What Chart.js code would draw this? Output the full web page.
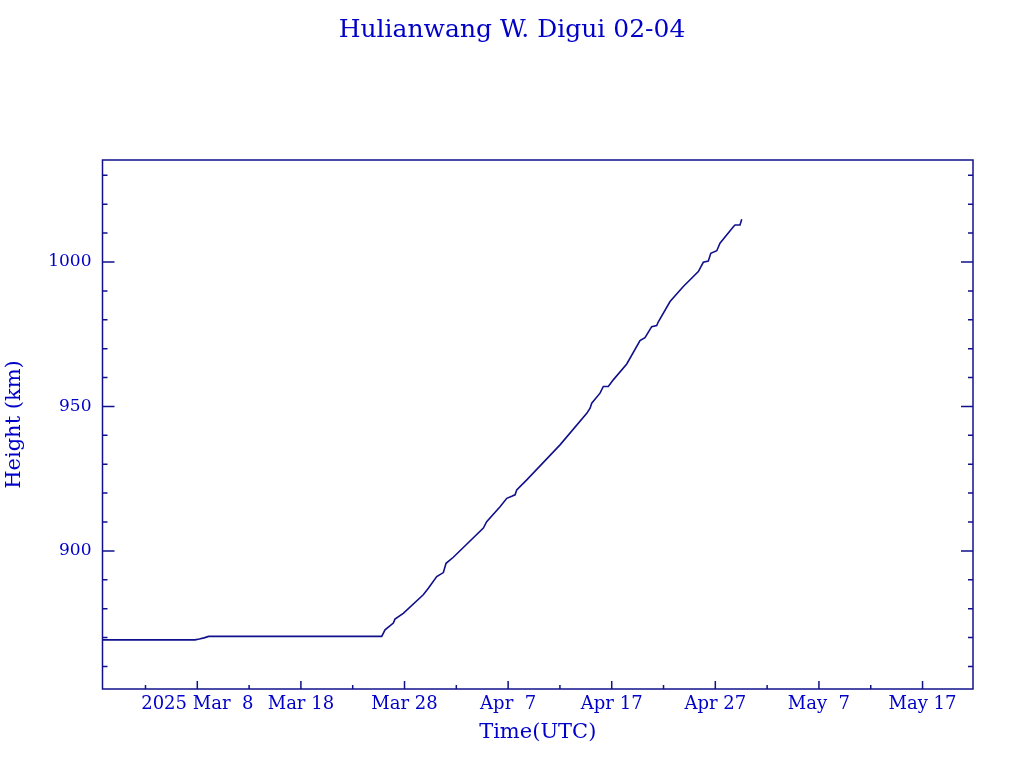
<!DOCTYPE html>
<html>
<head>
<meta charset="utf-8">
<script src="https://cdn.jsdelivr.net/npm/chart.js@4"></script>
<style>
  html, body { margin: 0; padding: 0; background: #fff; }
  #wrap { width: 1024px; height: 768px; }
</style>
</head>
<body>
<div id="wrap"><canvas id="chart" width="1024" height="768"></canvas></div>
<script>
// days counted from 2025 Feb 28 (so Mar 8 = 8, Apr 7 = 38, May 7 = 68)
const days = [
  -1.15, 7.78, 8.19, 8.65, 9.10, 25.80, 26.12, 26.92, 27.08, 27.88,
  29.81, 30.30, 31.11, 31.75, 32.01, 32.71, 35.61, 35.93, 37.22, 37.87,
  38.35, 38.67, 38.83, 39.80, 43.01, 45.59, 45.91, 46.07, 46.87, 47.19,
  47.67, 48.15, 49.45, 50.73, 51.21, 51.86, 52.34, 52.50, 53.63, 54.91,
  56.36, 56.84, 57.32, 57.56, 58.14, 58.45, 59.74, 59.90, 60.38, 60.55
];
const heights = [
  869.2, 869.2, 869.5, 869.9, 870.4, 870.4, 872.7, 875.0, 876.4, 878.4,
  884.8, 887.1, 891.1, 892.5, 895.7, 897.8, 907.9, 910.1, 915.3, 918.2,
  918.9, 919.4, 921.1, 924.6, 936.7, 947.6, 949.4, 951.1, 954.6, 956.9,
  956.9, 959.2, 964.7, 972.8, 973.8, 977.6, 978.0, 979.3, 986.3, 991.5,
  996.7, 999.9, 1000.3, 1003.0, 1003.9, 1006.5, 1012.2, 1012.8, 1012.8, 1014.8
];

const xTickDays = [8, 18, 28, 38, 48, 58, 68, 78];
const xTickLabels = ['2025 Mar  8', 'Mar 18', 'Mar 28', 'Apr  7', 'Apr 17', 'Apr 27', 'May  7', 'May 17'];
const xMinorDays = [3, 13, 23, 33, 43, 53, 63, 73];
const yMajor = [900, 950, 1000];
const yMinor = [860, 870, 880, 890, 910, 920, 930, 940, 960, 970, 980, 990, 1010, 1020, 1030];

const textColor = '#0000c8';
const lineColor = '#10108c';
const serif = "'DejaVu Serif', serif";

// frame with inward tick marks on bottom, left and right
const frameTicks = {
  id: 'frameTicks',
  afterDatasetsDraw(chart) {
    const { ctx, chartArea: a, scales: { x, y } } = chart;
    ctx.save();
    ctx.strokeStyle = lineColor;
    ctx.lineWidth = 1.5;
    ctx.strokeRect(a.left, a.top, a.right - a.left, a.bottom - a.top);
    ctx.beginPath();
    xTickDays.concat(xMinorDays).forEach(d => {
      const px = x.getPixelForValue(d);
      const len = xTickDays.includes(d) ? 8 : 4;
      ctx.moveTo(px, a.bottom);
      ctx.lineTo(px, a.bottom - len);
    });
    yMajor.concat(yMinor).forEach(v => {
      const py = y.getPixelForValue(v);
      const len = yMajor.includes(v) ? 12 : 5;
      ctx.moveTo(a.left, py);
      ctx.lineTo(a.left + len, py);
      ctx.moveTo(a.right, py);
      ctx.lineTo(a.right - len, py);
    });
    ctx.stroke();
    ctx.restore();
  }
};

new Chart(document.getElementById('chart'), {
  type: 'line',
  data: {
    datasets: [{
      data: days.map((d, i) => ({ x: d, y: heights[i] })),
      borderColor: lineColor,
      borderWidth: 1.6,
      pointRadius: 0,
      tension: 0,
      fill: false
    }]
  },
  options: {
    responsive: false,
    animation: false,
    layout: { padding: 0 },
    plugins: {
      legend: { display: false },
      tooltip: { enabled: false },
      title: {
        display: true,
        text: 'Hulianwang W. Digui 02-04',
        color: textColor,
        font: { family: serif, size: 25, weight: 'normal' },
        padding: { top: 15, bottom: 115 }
      }
    },
    scales: {
      x: {
        type: 'linear',
        min: -1.15,
        max: 82.87,
        grid: { display: false },
        border: { display: false },
        afterBuildTicks(scale) {
          scale.ticks = xTickDays.map(v => ({ value: v }));
        },
        afterFit(scale) { scale.height = 79; },
        ticks: {
          autoSkip: false,
          maxRotation: 0,
          padding: -3,
          color: textColor,
          font: { family: serif, size: 18 },
          callback: v => xTickLabels[xTickDays.indexOf(v)]
        },
        title: {
          display: true,
          text: 'Time(UTC)',
          color: textColor,
          font: { family: serif, size: 21 },
          padding: { top: 0, bottom: 23 }
        }
      },
      y: {
        min: 852.2,
        max: 1035.3,
        grid: { display: false },
        border: { display: false },
        afterBuildTicks(scale) {
          scale.ticks = yMajor.map(v => ({ value: v }));
        },
        afterFit(scale) { scale.width = 102.5; },
        ticks: {
          padding: 3,
          color: textColor,
          font: { family: serif, size: 17 },
          callback: v => String(v)
        },
        title: {
          display: true,
          text: 'Height (km)',
          color: textColor,
          font: { family: serif, size: 21 },
          padding: { top: 2, bottom: 0 }
        }
      },
      // empty right axis: keeps the plot 51px from the right edge
      yRight: {
        position: 'right',
        min: 852.2,
        max: 1035.3,
        grid: { display: false },
        border: { display: false },
        ticks: { display: false },
        afterFit(scale) { scale.width = 51; }
      }
    }
  },
  plugins: [frameTicks]
});
</script>
</body>
</html>
